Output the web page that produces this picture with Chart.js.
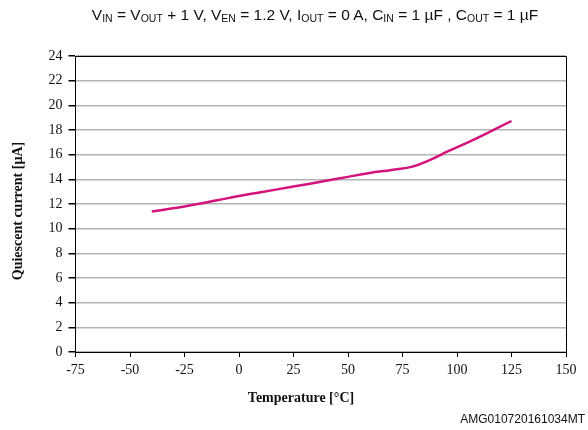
<!DOCTYPE html>
<html>
<head>
<meta charset="utf-8">
<script src="https://cdn.jsdelivr.net/npm/chart.js@4/dist/chart.umd.min.js"></script>
<style>
  html, body { margin: 0; padding: 0; background: #fff; }
  #wrap { position: relative; width: 588px; height: 430px; }
  #title { position: absolute; left: 0; top: 6px; width: 630px; text-align: center;
           font-family: "Liberation Sans", Arial, sans-serif; font-size: 15.5px; color: #111; white-space: nowrap; }
  #title sub { font-size: 10.5px; vertical-align: -2px; line-height: 0; }
  canvas { position: absolute; left: 0; top: 0; }
</style>
</head>
<body>
<div id="wrap">
  <canvas id="c" width="588" height="430"></canvas>
  <div id="title">V<sub>IN</sub> = V<sub>OUT</sub> + 1 V, V<sub>EN</sub> = 1.2 V, I<sub>OUT</sub> = 0 A, C<sub>IN</sub> = 1 µF , C<sub>OUT</sub> = 1 µF</div>
</div>
<script>
const temperatures = [-40, -25, -10, 0, 10, 25, 40, 50, 60, 70, 80, 88, 96, 105, 115, 125];
const quiescentCurrent = [11.4, 11.8, 12.3, 12.65, 12.95, 13.42, 13.88, 14.2, 14.52, 14.76, 15.05, 15.6, 16.28, 17.0, 17.85, 18.73];
const xTicks = [-75, -50, -25, 0, 25, 50, 75, 100, 125, 150];
const yTicks = [0, 2, 4, 6, 8, 10, 12, 14, 16, 18, 20, 22, 24];
const xTitle = 'Temperature [°C]';
const yTitle = 'Quiescent current [µA]';
const footnote = 'AMG010720161034MT';

const points = temperatures.map((t, i) => ({ x: t, y: quiescentCurrent[i] }));

const decor = {
  id: 'decor',
  afterDraw(chart) {
    const { ctx, chartArea: a } = chart;
    ctx.save();
    ctx.strokeStyle = '#000';
    ctx.lineWidth = 1;
    ctx.beginPath();
    ctx.moveTo(a.left, a.top + 0.5);
    ctx.lineTo(a.right + 0.5, a.top + 0.5);
    ctx.lineTo(a.right + 0.5, a.bottom);
    ctx.stroke();
    ctx.fillStyle = '#111';
    ctx.font = 'bold 14px "Liberation Serif", "Times New Roman", serif';
    ctx.textAlign = 'center';
    ctx.textBaseline = 'middle';
    ctx.fillText(xTitle, 301, 398);
    ctx.save();
    ctx.translate(18, 211);
    ctx.rotate(-Math.PI / 2);
    ctx.fillText(yTitle, 0, 0);
    ctx.restore();
    ctx.font = '12px "Liberation Sans", Arial, sans-serif';
    ctx.textAlign = 'right';
    ctx.fillText(footnote, 585, 420);
    ctx.restore();
  }
};

new Chart(document.getElementById('c'), {
  type: 'line',
  data: {
    datasets: [{
      data: points,
      borderColor: '#d4137c',
      borderWidth: 2.5,
      pointRadius: 0,
      tension: 0.4,
      fill: false
    }]
  },
  options: {
    responsive: false,
    animation: false,
    devicePixelRatio: 1,
    layout: { padding: { top: 56, right: 22, left: 0, bottom: 0 } },
    plugins: { legend: { display: false }, tooltip: { enabled: false }, title: { display: false } },
    scales: {
      x: {
        type: 'linear',
        min: -75, max: 150,
        afterBuildTicks(s) { s.ticks = xTicks.map(v => ({ value: v })); },
        afterFit(s) { s.height = 78; },
        grid: { drawOnChartArea: false, tickColor: '#000', tickLength: 5 },
        border: { color: '#000', width: 1 },
        ticks: { color: '#111', padding: 5, maxRotation: 0,
                 font: { family: '"Liberation Serif", "Times New Roman", serif', size: 14 } }
      },
      y: {
        min: 0, max: 24,
        afterBuildTicks(s) { s.ticks = yTicks.map(v => ({ value: v })); },
        afterFit(s) { s.width = 75.5; },
        grid: { color: '#b4b4b4', lineWidth: 1.5, tickColor: '#000', tickLength: 7 },
        border: { color: '#000', width: 1 },
        ticks: { color: '#111', padding: 6,
                 font: { family: '"Liberation Serif", "Times New Roman", serif', size: 14 } }
      }
    }
  },
  plugins: [decor]
});
</script>
</body>
</html>
